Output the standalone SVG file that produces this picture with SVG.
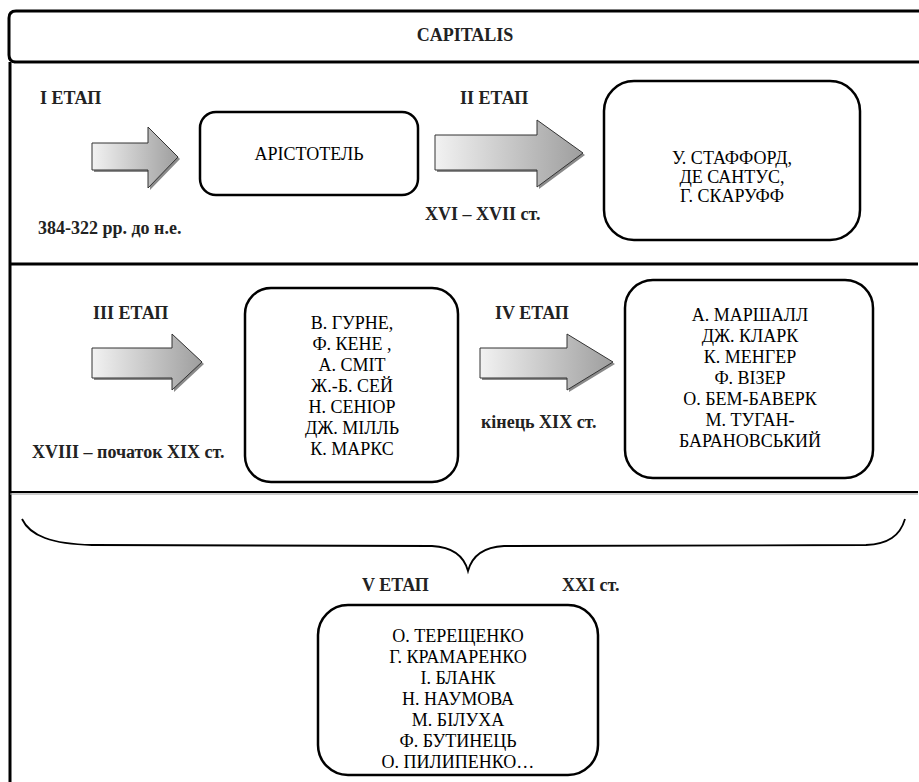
<svg xmlns="http://www.w3.org/2000/svg" width="919" height="782" viewBox="0 0 919 782">
<defs>
<linearGradient id="ag" x1="0" y1="0" x2="1" y2="0">
<stop offset="0" stop-color="#f2f2f2"/>
<stop offset="1" stop-color="#9e9e9e"/>
</linearGradient>
<style>
text{font-family:'Liberation Serif','DejaVu Serif',serif}
.lbl{font-weight:bold;font-size:18px;fill:#222}
.nm{font-size:18px;fill:#000;text-anchor:middle}
.box{fill:#fff;stroke:#000;stroke-width:2.5}
.arr{fill:url(#ag);stroke:#333;stroke-width:1}
.sh{fill:#8a8a8a}
.frame{fill:none;stroke:#000;stroke-width:3}
</style>
</defs>
<rect x="0" y="0" width="919" height="782" fill="#fff"/>
<g id="frame">
<path class="frame" d="M919 11 H16 Q9 11 9 18 V55 Q9 62 16 62 H919"/>
<line x1="919" y1="63.5" x2="14" y2="63.5" stroke="#888" stroke-width="1"/>
<line x1="10" y1="62" x2="10" y2="782" stroke="#000" stroke-width="3"/>
<line x1="10" y1="264" x2="918" y2="264" stroke="#000" stroke-width="3"/>
<line x1="10" y1="492" x2="918" y2="492" stroke="#000" stroke-width="2"/>
<line x1="10" y1="494" x2="918" y2="494" stroke="#999" stroke-width="1"/>
<text class="lbl" x="465" y="41" text-anchor="middle" font-family="Liberation Serif, serif">CAPITALIS</text>
</g>
<g id="connectors">
<g id="arrow1">
<polygon class="sh" points="94,145 150,145 150,129 180,159 150,190 150,172 94,172"/>
<polygon class="arr" points="92,143 148,143 148,127 178,157 148,188 148,170 92,170"/>
</g>
<g id="arrow2">
<polygon class="sh" points="437,137 539,137 539,122 585,155 539,189 539,172 437,172"/>
<polygon class="arr" points="435,135 537,135 537,120 583,153 537,187 537,170 435,170"/>
</g>
<g id="arrow3">
<polygon class="sh" points="94,350 174,350 174,336 204,364 174,392 174,380 94,380"/>
<polygon class="arr" points="92,348 172,348 172,334 202,362 172,390 172,378 92,378"/>
</g>
<g id="arrow4">
<polygon class="sh" points="482,350 569,350 569,336 615,364 569,392 569,380 482,380"/>
<polygon class="arr" points="480,348 567,348 567,334 613,362 567,390 567,378 480,378"/>
</g>
<path id="brace" d="M22 519 C30 536 52 544 92 545 L432 546 C452 547 464 556 468 571 C472 556 484 547 504 546 L866 545 C888 544 900 536 905 519" fill="none" stroke="#000" stroke-width="1.8"/>
</g>
<g id="stage1" font-family="Liberation Serif, serif">
<text class="lbl" x="40" y="104">I ЕТАП</text>
<text class="lbl" x="38" y="234">384-322 рр. до н.е.</text>
</g>
<g id="node-aristotel" font-family="Liberation Serif, serif">
<rect class="box" x="200" y="112" width="218" height="83" rx="16"/>
<text class="nm" x="309" y="160">АРІСТОТЕЛЬ</text>
</g>
<g id="stage2" font-family="Liberation Serif, serif">
<text class="lbl" x="460" y="104">II ЕТАП</text>
<text class="lbl" x="425" y="220">XVI – XVII ст.</text>
</g>
<g id="node-stage2" font-family="Liberation Serif, serif">
<rect class="box" x="604" y="81" width="256" height="159" rx="30"/>
<text class="nm" x="732" y="164">У. СТАФФОРД,</text>
<text class="nm" x="732" y="183">ДЕ САНТУС,</text>
<text class="nm" x="732" y="202">Г. СКАРУФФ</text>
</g>
<g id="stage3" font-family="Liberation Serif, serif">
<text class="lbl" x="93" y="319">III ЕТАП</text>
<text class="lbl" x="32" y="458">XVIII – початок XIX ст.</text>
</g>
<g id="node-stage3" font-family="Liberation Serif, serif">
<rect class="box" x="245" y="288" width="213" height="194" rx="26"/>
<text class="nm" x="352" y="329">В. ГУРНЕ,</text>
<text class="nm" x="352" y="350">Ф. КЕНЕ ,</text>
<text class="nm" x="352" y="371">А. СМІТ</text>
<text class="nm" x="352" y="392">Ж.-Б. СЕЙ</text>
<text class="nm" x="352" y="413">Н. СЕНІОР</text>
<text class="nm" x="352" y="434">ДЖ. МІЛЛЬ</text>
<text class="nm" x="352" y="455">К. МАРКС</text>
</g>
<g id="stage4" font-family="Liberation Serif, serif">
<text class="lbl" x="495" y="319">IV ЕТАП</text>
<text class="lbl" x="481" y="428">кінець XIX ст.</text>
</g>
<g id="node-stage4" font-family="Liberation Serif, serif">
<rect class="box" x="625" y="280" width="248" height="198" rx="28"/>
<text class="nm" x="750" y="321">А. МАРШАЛЛ</text>
<text class="nm" x="750" y="342">ДЖ. КЛАРК</text>
<text class="nm" x="750" y="363">К. МЕНГЕР</text>
<text class="nm" x="750" y="384">Ф. ВІЗЕР</text>
<text class="nm" x="750" y="405">О. БЕМ-БАВЕРК</text>
<text class="nm" x="750" y="426">М. ТУГАН-</text>
<text class="nm" x="750" y="447">БАРАНОВСЬКИЙ</text>
</g>
<g id="stage5" font-family="Liberation Serif, serif">
<text class="lbl" x="362" y="591">V ЕТАП</text>
<text class="lbl" x="562" y="591">XXI ст.</text>
</g>
<g id="node-stage5" font-family="Liberation Serif, serif">
<rect class="box" x="318" y="605" width="280" height="170" rx="30"/>
<text class="nm" x="458" y="642">О. ТЕРЕЩЕНКО</text>
<text class="nm" x="458" y="663">Г. КРАМАРЕНКО</text>
<text class="nm" x="458" y="684">І. БЛАНК</text>
<text class="nm" x="458" y="705">Н. НАУМОВА</text>
<text class="nm" x="458" y="726">М. БІЛУХА</text>
<text class="nm" x="458" y="747">Ф. БУТИНЕЦЬ</text>
<text class="nm" x="458" y="768">О. ПИЛИПЕНКО…</text>
</g>
</svg>
